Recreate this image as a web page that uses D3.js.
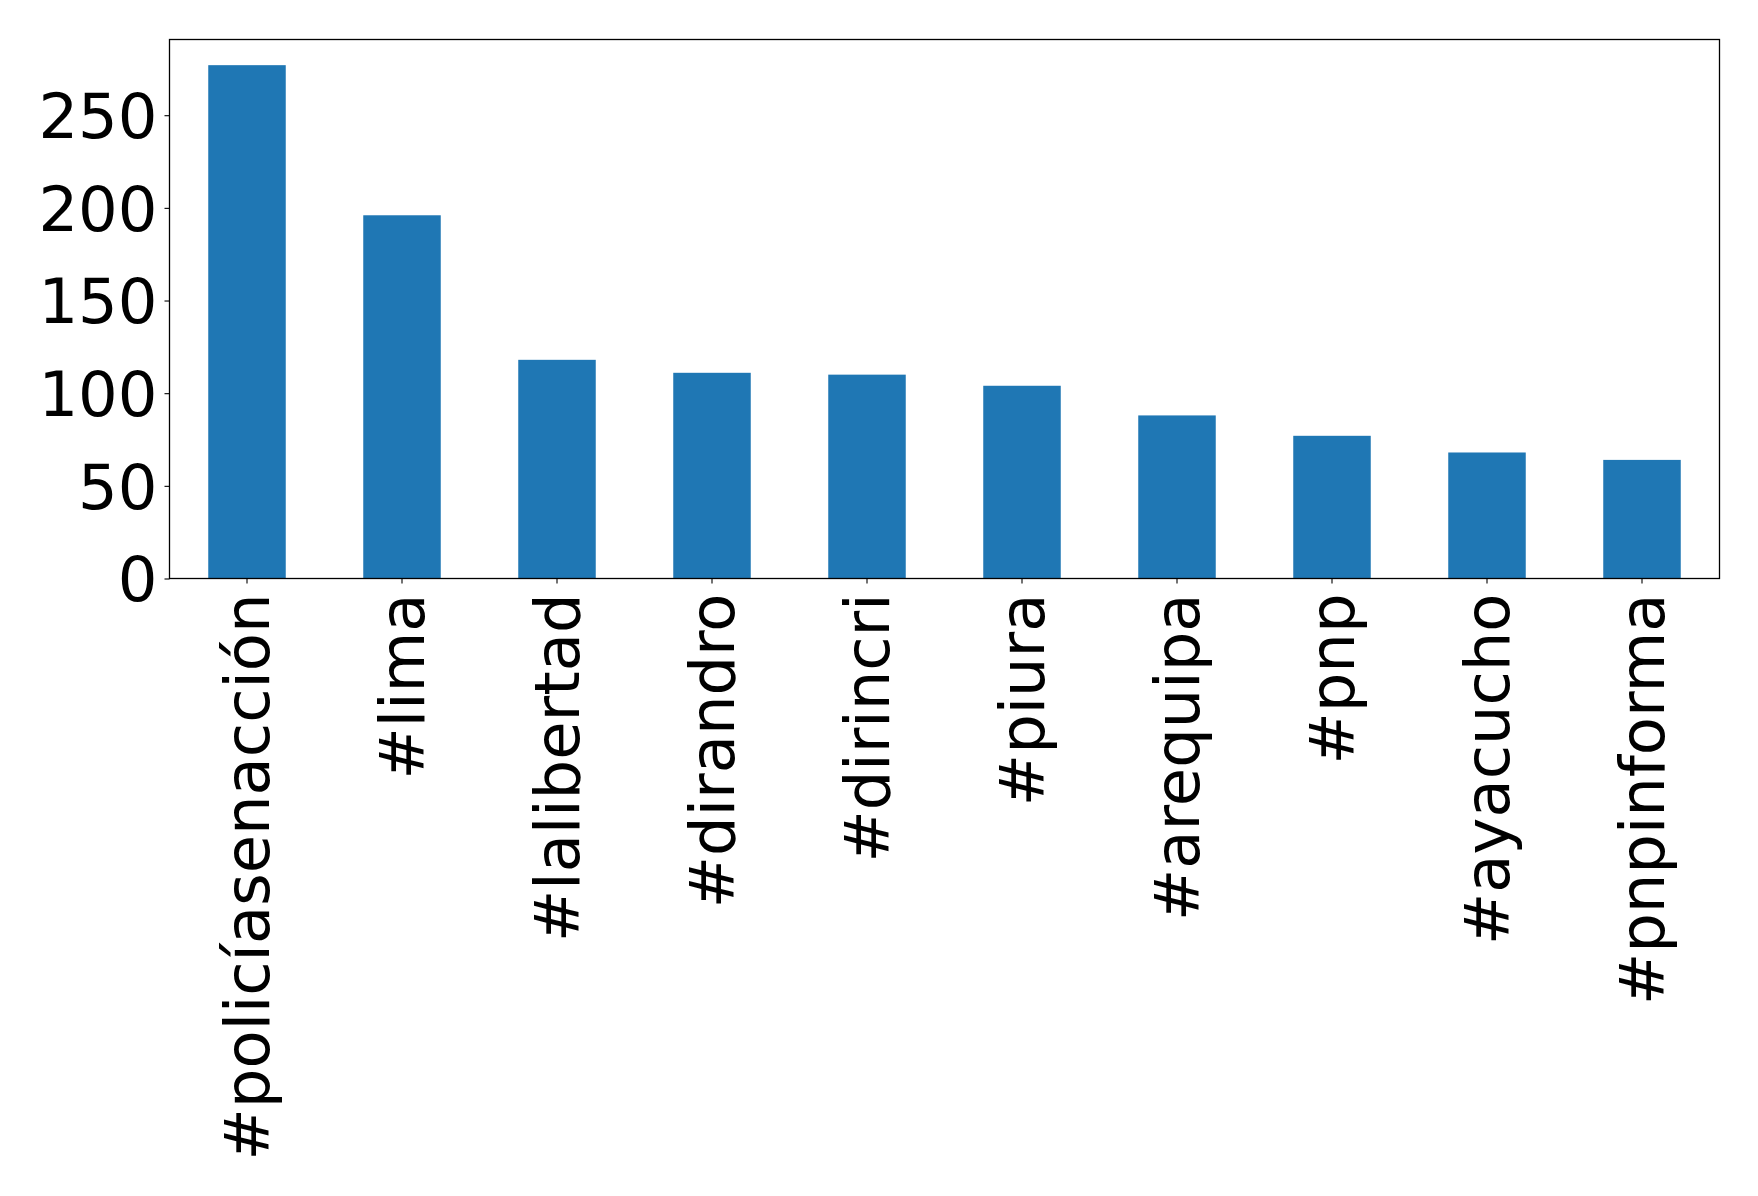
<!DOCTYPE html>
<html><head><meta charset="utf-8">
<script src="https://cdn.jsdelivr.net/npm/d3@7"></script>
<style>html,body{margin:0;padding:0;background:#fff;}</style>
</head><body>
<svg id="chart" width="1758" height="1196"></svg>
<script>
const categories = ["#policíasenacción","#lima","#lalibertad","#dirandro","#dirincri","#piura","#arequipa","#pnp","#ayacucho","#pnpinforma"];
const values = [277,196,118,111,110,104,88,77,68,64];
const yTicks = [0,50,100,150,200,250];

const W=1758,H=1196;
const m={left:169.5,right:W-1719.5,top:39.5,bottom:H-578.5};
const svg=d3.select("#chart");
const iw=W-m.left-m.right, ih=H-m.top-m.bottom;
const g=svg.append("g").attr("transform",`translate(${m.left},${m.top})`);

const x=d3.scaleBand().domain(categories).range([0,iw]).paddingInner(0.5).paddingOuter(0.25);
const y=d3.scaleLinear().domain([0,d3.max(values)*1.05]).range([ih,0]);

g.selectAll("rect.bar").data(values).join("rect")
  .attr("class","bar")
  .attr("x",(d,i)=>x(categories[i]))
  .attr("width",x.bandwidth())
  .attr("y",d=>y(d))
  .attr("height",d=>ih-y(d))
  .attr("fill","#1f77b4");

const fs=62.4;
const yAxis=g.append("g").call(d3.axisLeft(y).tickValues(yTicks).tickSize(5).tickPadding(7).tickFormat(d3.format("d")));
yAxis.select(".domain").remove();
yAxis.selectAll("text").attr("font-family","DejaVu Sans").attr("font-size",fs).attr("fill","#000").attr("dy","0.36em");
yAxis.selectAll("line").attr("stroke","#000").attr("stroke-width",1.1);

const xAxis=g.append("g").attr("transform",`translate(0,${ih})`).call(d3.axisBottom(x).tickSize(5).tickPadding(0));
xAxis.select(".domain").remove();
xAxis.selectAll("line").attr("stroke","#000").attr("stroke-width",1.1);
xAxis.selectAll("text")
  .attr("font-family","DejaVu Sans").attr("font-size",fs).attr("fill","#000")
  .attr("text-anchor","end")
  .attr("transform","rotate(-90)")
  .attr("x",-15).attr("y",0).attr("dy","0.35em");

g.append("rect").attr("x",0).attr("y",0).attr("width",iw).attr("height",ih)
  .attr("fill","none").attr("stroke","#000").attr("stroke-width",1.3);
</script>
</body></html>
